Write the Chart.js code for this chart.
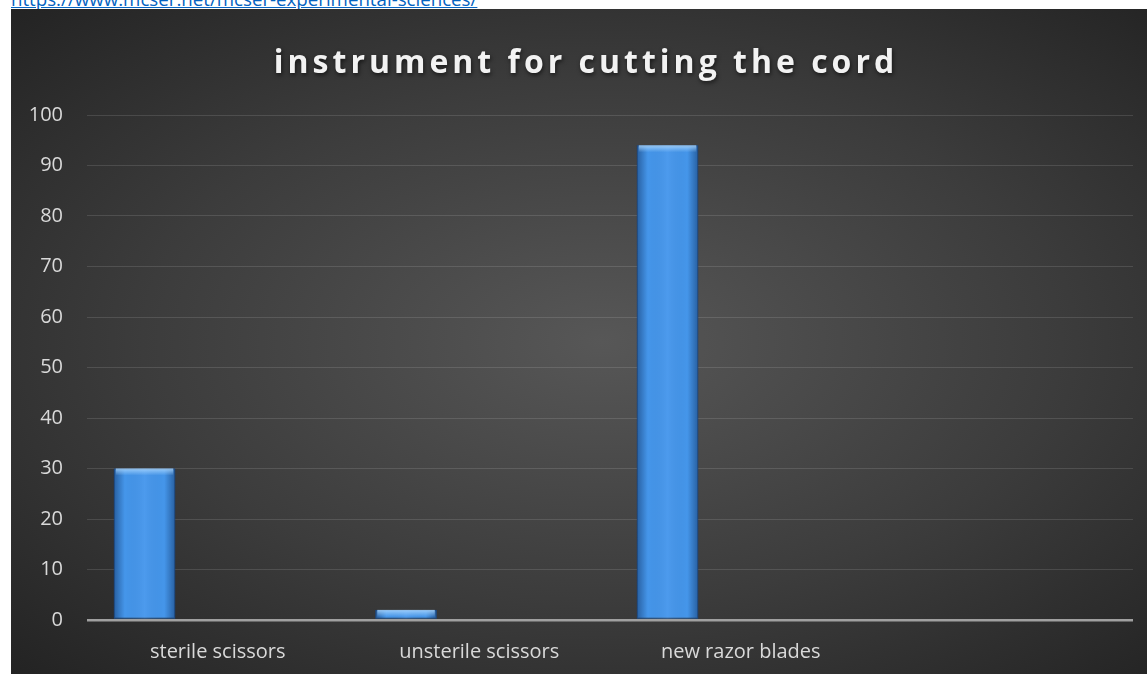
<!DOCTYPE html>
<html lang="en">
<head>
    <meta charset="UTF-8">
    <title>instrument for cutting the cord</title>
    <script src="https://cdn.jsdelivr.net/npm/chart.js"></script>
    <style>
        body { margin: 0; background: #fff; width: 1147px; height: 674px; overflow: hidden; position: relative; }
        #src {
            position: absolute; left: 11px; top: -10px;
            font-family: "Open Sans", sans-serif; font-size: 18.7px; line-height: 18px;
            color: #0563c1; text-decoration: underline; white-space: nowrap;
        }
        #box {
            position: absolute; left: 11px; top: 9px; width: 1136px; height: 665px;
            background: radial-gradient(ellipse at 52% 50%, #575757 0%, #3c3c3c 55%, #232323 100%);
        }
    </style>
</head>
<body>
    <a id="src">https://www.mcser.net/mcser-experimental-sciences/</a>
    <div id="box"><canvas id="chart" width="1136" height="665"></canvas></div>

    <script>
        const chartTitle = 'instrument for cutting the cord';
        const categories = ['sterile scissors', 'unsterile scissors', 'new razor blades', ''];
        const values = [30, 2, 94, null];
        const emptySeries = [null, null, null, null];
        const yTicks = [0, 10, 20, 30, 40, 50, 60, 70, 80, 90, 100];

        // title with letter spacing and a soft shadow
        const titlePlugin = {
            id: 'spacedTitle',
            afterDraw(chart) {
                const ctx = chart.ctx;
                ctx.save();
                ctx.font = 'bold 32px "Open Sans", sans-serif';
                ctx.letterSpacing = '4px';
                ctx.fillStyle = '#f2f2f2';
                ctx.textAlign = 'center';
                ctx.textBaseline = 'alphabetic';
                ctx.shadowColor = 'rgba(0,0,0,0.6)';
                ctx.shadowBlur = 4;
                ctx.shadowOffsetX = 1;
                ctx.shadowOffsetY = 2;
                ctx.fillText(chartTitle, chart.width / 2 + 7, 64);
                ctx.restore();
            }
        };

        // bevel look on the bars (shaded sides, light top edge)
        const bevelPlugin = {
            id: 'bevel',
            afterDatasetsDraw(chart) {
                const ctx = chart.ctx;
                chart.getDatasetMeta(0).data.forEach(bar => {
                    if (bar.skip || isNaN(bar.y)) return;
                    const l = bar.x - bar.width / 2, r = bar.x + bar.width / 2;
                    const g = ctx.createLinearGradient(l, 0, r, 0);
                    g.addColorStop(0, 'rgba(15,50,100,0.55)');
                    g.addColorStop(0.18, 'rgba(15,50,100,0)');
                    g.addColorStop(0.5, 'rgba(120,180,255,0.15)');
                    g.addColorStop(0.82, 'rgba(15,50,100,0)');
                    g.addColorStop(1, 'rgba(15,50,100,0.55)');
                    ctx.save();
                    ctx.fillStyle = g;
                    ctx.fillRect(l, bar.y, bar.width, bar.base - bar.y);
                    const h = Math.min(7, bar.base - bar.y);
                    const t = ctx.createLinearGradient(0, bar.y, 0, bar.y + h);
                    t.addColorStop(0, 'rgba(170,215,255,0.85)');
                    t.addColorStop(1, 'rgba(170,215,255,0)');
                    ctx.fillStyle = t;
                    ctx.fillRect(l + 2, bar.y, bar.width - 4, h);
                    ctx.restore();
                });
            }
        };

        const ctx = document.getElementById('chart').getContext('2d');
        new Chart(ctx, {
            type: 'bar',
            data: {
                labels: categories,
                datasets: [{
                    data: values,
                    backgroundColor: '#4596ea',
                    borderColor: '#2a66ad',
                    borderWidth: 1,
                    borderSkipped: false
                }, {
                    data: emptySeries
                }, {
                    data: emptySeries
                }]
            },
            options: {
                responsive: false,
                animation: false,
                devicePixelRatio: 1,
                categoryPercentage: 0.84,
                barPercentage: 0.84,
                layout: { padding: { left: 0, right: 14, top: 106, bottom: 14 } },
                plugins: {
                    legend: { display: false },
                    tooltip: { enabled: false }
                },
                scales: {
                    x: {
                        afterFit(scale) { scale.height = 40; },
                        grid: { display: false },
                        border: { display: false },
                        ticks: {
                            color: '#d9d9d9',
                            padding: 12,
                            maxRotation: 0,
                            font: { family: '"Open Sans", sans-serif', size: 20 }
                        }
                    },
                    y: {
                        min: 0,
                        max: 100,
                        afterFit(scale) { scale.width = 76; },
                        afterBuildTicks(scale) { scale.ticks = yTicks.map(v => ({ value: v })); },
                        border: { display: false },
                        grid: {
                            drawTicks: false,
                            color: c => c.tick.value === 0 ? '#a0a0a0' : 'rgba(255,255,255,0.12)',
                            lineWidth: c => c.tick.value === 0 ? 2.5 : 1
                        },
                        ticks: {
                            color: '#d9d9d9',
                            padding: 24,
                            font: { family: '"Open Sans", sans-serif', size: 20 }
                        }
                    }
                }
            },
            plugins: [bevelPlugin, titlePlugin]
        });
    </script>
</body>
</html>
